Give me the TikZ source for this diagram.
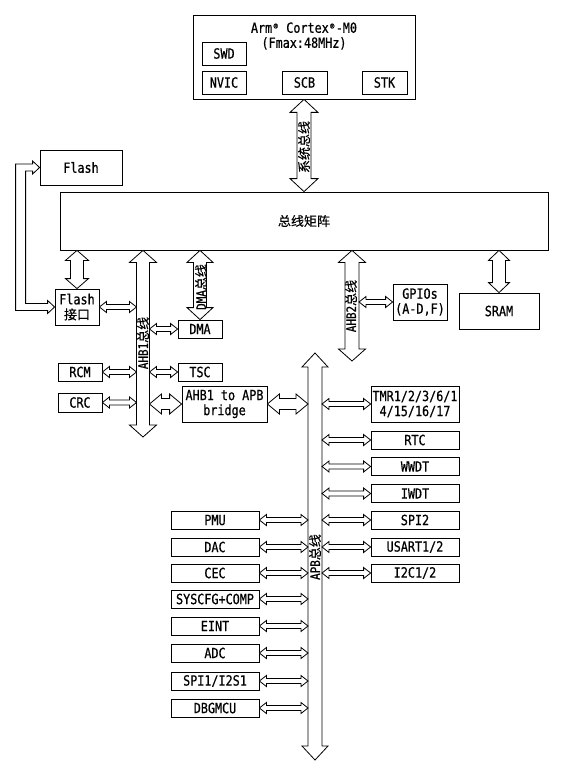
\documentclass[tikz,border=0pt]{standalone}
\usepackage{fontspec}
\setmainfont[FakeStretch=0.84,FakeBold=0.6]{DejaVu Sans Mono}
\newfontfamily\cjk[FakeBold=0.4]{Noto Sans CJK SC}
\usetikzlibrary{calc}
% vertical hollow double arrow: #1 top point, #2 bottom point, #3 shaft half, #4 head half, #5 head length
\newcommand\varr[5]{\draw[hol] let \p1=(#1), \p2=(#2) in
  (\x1,\y1) -- (\x1+#4,\y1-#5) -- (\x1+#3,\y1-#5) -- (\x1+#3,\y2+#5) -- (\x1+#4,\y2+#5) -- (\x1,\y2)
  -- (\x1-#4,\y2+#5) -- (\x1-#3,\y2+#5) -- (\x1-#3,\y1-#5) -- (\x1-#4,\y1-#5) -- cycle;}
% horizontal hollow double arrow: #1 left point, #2 right point
\newcommand\harr[5]{\draw[hol] let \p1=(#1), \p2=(#2) in
  (\x1,\y1) -- (\x1+#5,\y1+#4) -- (\x1+#5,\y1+#3) -- (\x2-#5,\y1+#3) -- (\x2-#5,\y1+#4) -- (\x2,\y1)
  -- (\x2-#5,\y1-#4) -- (\x2-#5,\y1-#3) -- (\x1+#5,\y1-#3) -- (\x1+#5,\y1-#4) -- cycle;}
\newcommand\thin[2]{\harr{#1}{#2}{2.5pt}{5.5pt}{7pt}}
\newcommand\regmark{\makebox[7pt]{\raisebox{0.5ex}{\fontsize{8}{8}\selectfont ®}}}
\begin{document}
\begin{tikzpicture}[x=1pt,y=-1pt,font=\fontsize{14}{15}\selectfont,
  hol/.style={draw=black,fill=white,line width=0.8pt,line join=miter},
  box/.style={draw=black,fill=white,line width=0.8pt,inner sep=0pt,align=center},
  bx/.style 2 args={box,minimum width=#1pt,minimum height=#2pt},
  lbl/.style={inner sep=0pt,rotate=90}]
\useasboundingbox (0,0) rectangle (562,765);
\fill[white] (0,0) rectangle (562,765);

% ---- nodes ----
\node[bx={222}{84}] (cpu) at (304,57) {};
\node[inner sep=0pt,align=center] (cputitle) at (304,36) {Arm\regmark\ Cortex\regmark-M0\\(Fmax:48MHz)};
\node[bx={44}{23}] (swd) at (224,53.5) {SWD};
\node[bx={44}{23}] (nvic) at (224,82.5) {NVIC};
\node[bx={45}{23}] (scb) at (304.5,82.5) {SCB};
\node[bx={45}{23}] (stk) at (384.5,82.5) {STK};

\node[bx={488}{58}] (bm) at (304,221) {{\cjk\fontsize{13}{15}\selectfont 总线矩阵}};
\node[bx={82}{35}] (flash) at (81,167.5) {Flash};
\node[bx={44}{36}] (fi) at (77,307) {Flash\\{\cjk\fontsize{13}{15}\selectfont 接口}};
\node[bx={44}{18}] (dma) at (200,329) {DMA};
\node[bx={44}{18}] (tsc) at (200,372) {TSC};
\node[bx={44}{18}] (rcm) at (80,372) {RCM};
\node[bx={44}{19}] (crc) at (80,402.5) {CRC};
\node[bx={85}{36}] (bridge) at (224.5,404) {AHB1 to APB\\bridge};
\node[bx={54}{36}] (gpio) at (420,302) {GPIOs\\(A-D,F)};
\node[bx={80}{36}] (sram) at (499,311) {SRAM};

\node[bx={88}{36}] (tmr) at (415,404) {TMR1/2/3/6/1\\4/15/16/17};
\node[bx={88}{18}] (rtc) at (415,440) {RTC};
\node[bx={88}{18}] (wwdt) at (415,466.5) {WWDT};
\node[bx={88}{18}] (iwdt) at (415,493.5) {IWDT};
\node[bx={88}{18}] (spi2) at (415,520) {SPI2};
\node[bx={88}{18}] (usart) at (415,547) {USART1/2};
\node[bx={88}{18}] (i2c) at (415,573) {I2C1/2};

\node[bx={88}{18}] (pmu) at (215,520) {PMU};
\node[bx={88}{18}] (dac) at (215,547) {DAC};
\node[bx={88}{18}] (cec) at (215,573) {CEC};
\node[bx={88}{18}] (syscfg) at (215,599) {SYSCFG+COMP};
\node[bx={88}{18}] (eint) at (215,626) {EINT};
\node[bx={88}{18}] (adc) at (215,653) {ADC};
\node[bx={88}{18}] (spi1) at (215,681) {SPI1/I2S1};
\node[bx={88}{18}] (dbg) at (215,708) {DBGMCU};

% ---- bus end points ----
\coordinate (ahb1end) at (143,437);
\coordinate (ahb1L) at (136.5,0);
\coordinate (ahb1R) at (149.5,0);
\coordinate (ahb2end) at (352,361);
\coordinate (ahb2R) at (359,0);
\coordinate (apbtop) at (315,353);
\coordinate (apbbot) at (315,760);
\coordinate (apbL) at (308,0);
\coordinate (apbR) at (322,0);

% ---- buses ----
\varr{cpu.south}{bm.north}{7pt}{14pt}{13pt}
\varr{bm.south -| fi.north}{fi.north}{6.5pt}{11.5pt}{10pt}
\varr{bm.south -| ahb1end}{ahb1end}{6.5pt}{13.5pt}{12pt}
\varr{bm.south -| dma.north}{dma.north}{6.5pt}{13pt}{12pt}
\varr{bm.south -| ahb2end}{ahb2end}{7pt}{13.5pt}{12pt}
\varr{bm.south -| sram.north}{sram.north}{6.5pt}{10.5pt}{10pt}
\varr{apbtop}{apbbot}{7pt}{13pt}{14pt}

% Flash <-> Flash interface (L-shaped)
\draw[hol] let \p1=(flash.west), \p2=(fi.west) in
  (\x1,\y1) -- (\x1-7pt,\y1+6.5pt) -- (\x1-7pt,\y1+3.5pt) -- (\x1-24pt,\y1+3.5pt)
  -- (\x1-24pt,\y2-3.5pt) -- (\x2-7pt,\y2-3.5pt) -- (\x2-7pt,\y2-6.5pt) -- (\x2,\y2)
  -- (\x2-7pt,\y2+6.5pt) -- (\x2-7pt,\y2+3.5pt) -- (\x1-14pt,\y2+3.5pt)
  -- (\x1-14pt,\y1-3.5pt) -- (\x1-7pt,\y1-3.5pt) -- (\x1-7pt,\y1-6.5pt) -- cycle;

% ---- bus labels ----
\tikzset{lblfont/.style={font=\fontsize{13}{15}\selectfont}}
\node[lbl,lblfont] (sysl) at (304,147) {{\cjk 系统总线}};
\node[lbl,lblfont] (dmal) at (201,287) {DMA{\cjk 总线}};
\node[lbl,lblfont] (ahb1l) at (143,343) {AHB1{\cjk 总线}};
\node[lbl,lblfont] (ahb2l) at (351,306) {AHB2{\cjk 总线}};
\node[lbl,lblfont] (apbl) at (315,557) {APB{\cjk 总线}};

% ---- AHB1 connections ----
\thin{fi.east}{fi.east -| ahb1L}
\thin{dma.west -| ahb1R}{dma.west}
\thin{rcm.east}{rcm.east -| ahb1L}
\thin{tsc.west -| ahb1R}{tsc.west}
\thin{crc.east}{crc.east -| ahb1L}
\harr{bridge.west -| ahb1R}{bridge.west}{5.5pt}{10pt}{12pt}
\harr{bridge.east}{bridge.east -| apbL}{5.5pt}{10pt}{12pt}

% ---- AHB2 ----
\thin{gpio.west -| ahb2R}{gpio.west}

% ---- APB connections ----
\foreach \nm in {tmr,rtc,wwdt,iwdt,spi2,usart,i2c}{\thin{\nm.west -| apbR}{\nm.west}}
\foreach \nm in {pmu,dac,cec,syscfg,eint,adc,spi1,dbg}{\thin{\nm.east}{\nm.east -| apbL}}
\end{tikzpicture}
\end{document}
